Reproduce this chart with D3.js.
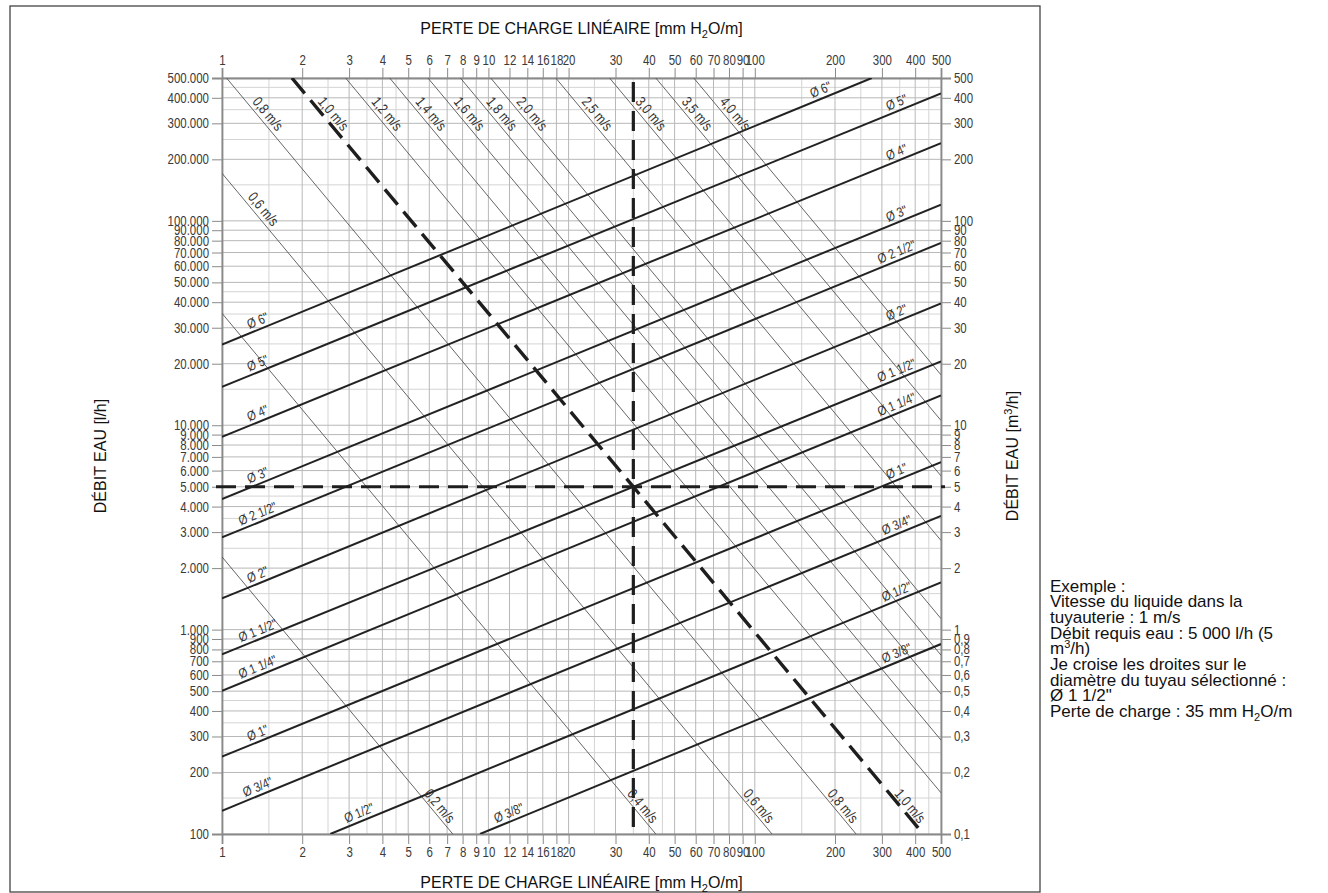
<!DOCTYPE html>
<html><head><meta charset="utf-8">
<script src="https://cdn.jsdelivr.net/npm/d3@7"></script>
<style>
body{margin:0;background:#fff}
svg{display:block}
</style>
</head><body>
<svg id="c" width="1328" height="893"></svg>
<script>
// ---------- DATA ----------
const xTicks = [1,2,3,4,5,6,7,8,9,10,12,14,16,18,20,30,40,50,60,70,80,90,100,200,300,400,500];
const xMinor = [1.5,2.5,3.5,4.5,25,35,45,150,250,350,450];
const yTicks = [100,200,300,400,500,600,700,800,900,
  1000,2000,3000,4000,5000,6000,7000,8000,9000,
  10000,20000,30000,40000,50000,60000,70000,80000,90000,
  100000,200000,300000,400000,500000];
const yMinor = [150,250,350,450,1500,2500,3500,4500,15000,25000,35000,45000,150000,250000,350000,450000];

// pipe diameter lines (J in mm H2O/m, Q in l/h)
const pipeNames  = ['Ø 6"','Ø 5"','Ø 4"','Ø 3"','Ø 2 1/2"','Ø 2"','Ø 1 1/2"','Ø 1 1/4"','Ø 1"','Ø 3/4"','Ø 1/2"','Ø 3/8"'];
const pipeStartJ = [1,1,1,1,1,1,1,1,1,1,2.55,9.3];
const pipeStartQ = [24800,15400,8770,4350,2825,1421,757,502,239,130,100,100];
const pipeEndJ   = [275,500,500,500,500,500,500,500,500,500,500,500];
const pipeEndQ   = [500000,420000,240000,120000,78000,39500,20500,14000,6600,3600,1700,850];

// velocity lines
const velNames  = ['0,2 m/s','0,4 m/s','0,6 m/s','0,8 m/s','1,0 m/s','1,2 m/s','1,4 m/s','1,6 m/s','1,8 m/s','2,0 m/s','2,5 m/s','3,0 m/s','3,5 m/s','4,0 m/s'];
const velStartJ = [1,1,1,1.04,1.83,2.91,4.26,5.93,7.85,10.2,17.9,28.5,42.5,59];
const velStartQ = [2270,35300,171000,500000,500000,500000,500000,500000,500000,500000,500000,500000,500000,500000];
const velEndJ   = [7.35,42.5,116,240,429,500,500,500,500,500,500,500,500,500];
const velEndQ   = [100,100,100,100,100,159,288,484,750,1132,2729,5650,10550,17640];
const velTopLabel    = [false,false,true,true,true,true,true,true,true,true,true,true,true,true];
const velBottomLabel = [true,true,true,true,true,false,false,false,false,false,false,false,false,false];
const dashedVel = '1,0 m/s';

// example point
const exJ = 35, exQ = 5000;

const exampleLines = ['Exemple :','Vitesse du liquide dans la','tuyauterie : 1 m/s','Débit requis eau : 5 000 l/h (5','m³/h)','Je croise les droites sur le','diamètre du tuyau sélectionné :','Ø 1 1/2"','Perte de charge : 35 mm H₂O/m'];

// ---------- CHART ----------
const SANS = '"Liberation Sans",Arial,sans-serif';
const SQ = 0.82; // horizontal squeeze to mimic a narrow face
const svg = d3.select("#c");
const m = {l:222, r:941, t:78, b:834};
const x = d3.scaleLog().domain([1,500]).range([m.l,m.r]);
const y = d3.scaleLog().domain([100,500000]).range([m.b,m.t]);

svg.append("rect").attr("x",10).attr("y",6).attr("width",1030).attr("height",886)
  .attr("fill","none").attr("stroke","#444").attr("stroke-width",1.3);

svg.append("defs").append("clipPath").attr("id","pc").append("rect")
  .attr("x",m.l).attr("y",m.t).attr("width",m.r-m.l).attr("height",m.b-m.t);

// grid
const grid = svg.append("g");
grid.selectAll(".vmin").data(xMinor).join("line").attr("class","vmin")
  .attr("x1",d=>x(d)).attr("x2",d=>x(d)).attr("y1",m.t).attr("y2",m.b).attr("stroke","#d4d4d4").attr("stroke-width",1);
grid.selectAll(".hmin").data(yMinor).join("line").attr("class","hmin")
  .attr("y1",d=>y(d)).attr("y2",d=>y(d)).attr("x1",m.l).attr("x2",m.r).attr("stroke","#d4d4d4").attr("stroke-width",1);
grid.selectAll(".vmaj").data(xTicks).join("line").attr("class","vmaj")
  .attr("x1",d=>x(d)).attr("x2",d=>x(d)).attr("y1",m.t).attr("y2",m.b).attr("stroke","#b8b8b8").attr("stroke-width",1);
grid.selectAll(".hmaj").data(yTicks).join("line").attr("class","hmaj")
  .attr("y1",d=>y(d)).attr("y2",d=>y(d)).attr("x1",m.l).attr("x2",m.r).attr("stroke","#b8b8b8").attr("stroke-width",1);

// axes
function styleAxis(g){
  g.attr("font-family",null).attr("font-size",null);
  g.select(".domain").attr("stroke","#8a8a8a").attr("stroke-width",1.8);
  g.selectAll(".tick line").attr("stroke","#8a8a8a").attr("stroke-width",1);
  g.selectAll(".tick text").attr("fill","#3a3a3a").style("font-family",SANS).style("font-size","14px")
    .each(function(){ const t=d3.select(this); const xx=+t.attr("x")||0; t.attr("x",xx/SQ).attr("transform",`scale(${SQ},1)`); });
}
const fmtL = d => d>=1000 ? d3.format(",")(d).replace(/,/g,".") : String(d);
const fmtR = d => String(d/1000).replace(".",",");
svg.append("g").attr("transform",`translate(0,${m.t})`)
  .call(d3.axisTop(x).tickValues(xTicks).tickFormat(d=>String(d)).tickSize(10).tickPadding(3)).call(styleAxis);
svg.append("g").attr("transform",`translate(0,${m.b})`)
  .call(d3.axisBottom(x).tickValues(xTicks).tickFormat(d=>String(d)).tickSize(10).tickPadding(3)).call(styleAxis);
svg.append("g").attr("transform",`translate(${m.l},0)`)
  .call(d3.axisLeft(y).tickValues(yTicks).tickFormat(fmtL).tickSize(10).tickPadding(3)).call(styleAxis);
svg.append("g").attr("transform",`translate(${m.r},0)`)
  .call(d3.axisRight(y).tickValues(yTicks).tickFormat(fmtR).tickSize(10).tickPadding(3)).call(styleAxis);

const plot = svg.append("g").attr("clip-path","url(#pc)");

// velocity lines
const vel = velNames.map((n,i)=>({n, x1:x(velStartJ[i]), y1:y(velStartQ[i]), x2:x(velEndJ[i]), y2:y(velEndQ[i]), top:velTopLabel[i], bot:velBottomLabel[i]}));
plot.selectAll(".vel").data(vel).join("line").attr("class","vel")
  .attr("x1",d=>d.x1).attr("y1",d=>d.y1).attr("x2",d=>d.x2).attr("y2",d=>d.y2)
  .attr("stroke",d=>d.n===dashedVel?"#1e1e1e":"#555")
  .attr("stroke-width",d=>d.n===dashedVel?3.4:0.9)
  .attr("stroke-dasharray",d=>d.n===dashedVel?"20,9":null);

// pipe lines
const pipes = pipeNames.map((n,i)=>({n, x1:x(pipeStartJ[i]), y1:y(pipeStartQ[i]), x2:x(pipeEndJ[i]), y2:y(pipeEndQ[i])}));
plot.selectAll(".pipe").data(pipes).join("line").attr("class","pipe")
  .attr("x1",d=>d.x1).attr("y1",d=>d.y1).attr("x2",d=>d.x2).attr("y2",d=>d.y2)
  .attr("stroke","#222").attr("stroke-width",2);

// crosshair
svg.append("line").attr("x1",m.l-6).attr("x2",m.r+4).attr("y1",y(exQ)).attr("y2",y(exQ))
  .attr("stroke","#1e1e1e").attr("stroke-width",3.2).attr("stroke-dasharray","20,9");
svg.append("line").attr("x1",x(exJ)).attr("x2",x(exJ)).attr("y1",m.t+4).attr("y2",m.b)
  .attr("stroke","#1e1e1e").attr("stroke-width",3.2).attr("stroke-dasharray","20,9");

// labels
const pipeLab = svg.append("g").style("font-family",SANS).style("font-size","13.5px").attr("fill","#333");
const velLab = svg.append("g").style("font-family",SANS).style("font-size","14.5px").attr("fill","#333");
function alongX(d, px){ const t=(px-d.x1)/(d.x2-d.x1); return [px, d.y1+t*(d.y2-d.y1)]; }
function angle(d){ return Math.atan2(d.y2-d.y1, d.x2-d.x1)*180/Math.PI; }
pipes.forEach((d,i)=>{
  const a = angle(d);
  const lx = i<10 ? x(1.4) : d.x1+32;
  const rx = i===0 ? d.x2-48 : x(350);
  [lx,rx].forEach(px=>{
    const [cx,cy] = alongX(d,px);
    pipeLab.append("text").attr("transform",`translate(${cx},${cy}) rotate(${a}) scale(${SQ},1)`)
      .attr("text-anchor","middle").attr("dy",-4).text(d.n);
  });
});
vel.forEach(d=>{
  const a = angle(d);
  const L = Math.hypot(d.x2-d.x1, d.y2-d.y1);
  const ux=(d.x2-d.x1)/L, uy=(d.y2-d.y1)/L;
  const px = uy, py = -ux; // perpendicular towards upper-right
  if(d.top){
    const cx=d.x1+ux*54+px*8, cy=d.y1+uy*54+py*8;
    velLab.append("text").attr("transform",`translate(${cx},${cy}) rotate(${a}) scale(${SQ},1)`)
      .attr("text-anchor","middle").attr("dy",4).text(d.n);
  }
  if(d.bot){
    const cx=d.x2-ux*30+px*7, cy=d.y2-uy*30+py*7;
    velLab.append("text").attr("transform",`translate(${cx},${cy}) rotate(${a}) scale(${SQ},1)`)
      .attr("text-anchor","middle").attr("dy",4).text(d.n);
  }
});

// titles
function h2oTitle(g, before, after){
  const t = g.append("text");
  t.append("tspan").text(before+"H");
  t.append("tspan").text("2").attr("font-size","11px").attr("dy",4);
  t.append("tspan").text(after).attr("dy",-4);
  return t;
}
const titleG = svg.append("g").style("font-family",SANS).style("font-size","16px").attr("fill","#111");
h2oTitle(titleG,"PERTE DE CHARGE LINÉAIRE [mm ","O/m]").attr("x",(m.l+m.r)/2).attr("y",34).attr("text-anchor","middle");
h2oTitle(titleG,"PERTE DE CHARGE LINÉAIRE [mm ","O/m]").attr("x",(m.l+m.r)/2).attr("y",888).attr("text-anchor","middle");
titleG.append("text").attr("transform",`translate(106,${(m.t+m.b)/2}) rotate(-90)`).attr("text-anchor","middle").text("DÉBIT EAU [l/h]");
const rt = titleG.append("text").attr("transform",`translate(1018,${(m.t+m.b)/2}) rotate(-90)`).attr("text-anchor","middle");
rt.append("tspan").text("DÉBIT EAU [m");
rt.append("tspan").text("3").attr("font-size","11px").attr("dy",-6);
rt.append("tspan").text("/h]").attr("dy",6);

// example text
const ex = svg.append("g").style("font-family",SANS).style("font-size","17px").attr("fill","#111");
exampleLines.forEach((s,i)=>{
  const t = ex.append("text").attr("x",1050).attr("y",591.5+i*15.7);
  if(s.includes("³")){ t.append("tspan").text("m"); t.append("tspan").text("3").attr("font-size","11px").attr("dy",-6); t.append("tspan").text("/h)").attr("dy",6); }
  else if(s.includes("₂")){ const p=s.split("₂"); t.append("tspan").text(p[0]); t.append("tspan").text("2").attr("font-size","11px").attr("dy",4); t.append("tspan").text(p[1]).attr("dy",-4); }
  else t.text(s);
});
</script>
</body></html>
